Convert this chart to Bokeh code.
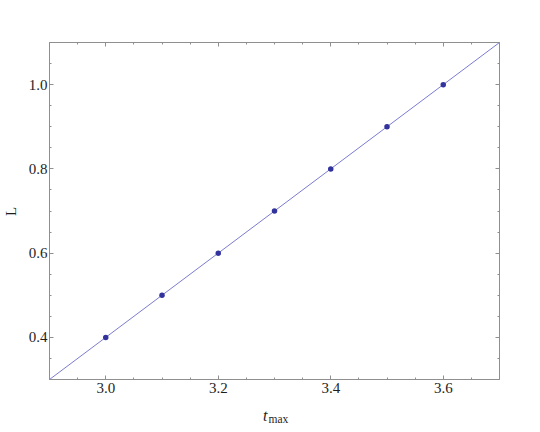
import math
import numpy as np
from bokeh.plotting import figure
from bokeh.models import Range1d, LinearAxis, FixedTicker, Label
from bokeh.embed import file_html
from bokeh.resources import INLINE

# ---- data ----
t_max = [3.0, 3.1, 3.2, 3.3, 3.4, 3.5, 3.6]
L_vals = [0.4, 0.5, 0.6, 0.7, 0.8, 0.9, 1.0]
fit_t = [2.9, 3.7]
fit_L = [0.3, 1.1]
x_ticks = [3.0, 3.2, 3.4, 3.6]
x_tick_labels = ["3.0", "3.2", "3.4", "3.6"]
y_ticks = [0.4, 0.6, 0.8, 1.0]
y_tick_labels = ["0.4", "0.6", "0.8", "1.0"]
x_label_main = "t"
x_label_sub = "max"
y_label = "L"

FONT = "Liberation Serif"
FRAME = "#8f8f8f"
TEXT = "#1e1e1e"

x_lo, x_hi = 2.9, 3.7
y_lo, y_hi = 0.3, 1.1
x_minor = [float(v) for v in np.round(np.arange(x_lo, x_hi + 1e-9, 0.05), 2)]
y_minor = [float(v) for v in np.round(np.arange(y_lo, y_hi + 1e-9, 0.05), 2)]

p = figure(frame_width=450, frame_height=337,
           x_range=Range1d(x_lo, x_hi), y_range=Range1d(y_lo, y_hi),
           output_backend="svg", toolbar_location=None,
           min_border_left=49, min_border_right=33,
           min_border_top=42, min_border_bottom=53,
           background_fill_color="white", border_fill_color="white")
p.grid.visible = False
p.outline_line_color = FRAME
p.outline_line_width = 1


def style_axis(ax, ticks, minor, labels, show):
    ax.ticker = FixedTicker(ticks=ticks, minor_ticks=minor)
    ax.axis_line_color = None
    ax.major_tick_line_color = FRAME
    ax.minor_tick_line_color = FRAME
    ax.major_tick_in = 4
    ax.major_tick_out = 0
    ax.minor_tick_in = 2
    ax.minor_tick_out = 0
    if show:
        ax.major_label_overrides = {t: s for t, s in zip(ticks, labels)}
        ax.major_label_text_font = FONT
        ax.major_label_text_font_size = "15px"
        ax.major_label_text_color = TEXT
    else:
        ax.major_label_overrides = {t: "" for t in ticks}
        ax.major_label_text_font_size = "1px"
        ax.major_label_standoff = 0


style_axis(p.xaxis[0], x_ticks, x_minor, x_tick_labels, True)
p.xaxis[0].major_label_standoff = 3
style_axis(p.yaxis[0], y_ticks, y_minor, y_tick_labels, True)
p.yaxis[0].major_label_standoff = 2

top = LinearAxis()
style_axis(top, x_ticks, x_minor, x_tick_labels, False)
p.add_layout(top, "above")
right = LinearAxis()
style_axis(right, y_ticks, y_minor, y_tick_labels, False)
p.add_layout(right, "right")

# fitted line and data points
p.line(fit_t, fit_L, line_color="#7b7bd3", line_width=1)
p.scatter(t_max, L_vals, size=5.5, fill_color="#33339e", line_color=None)

# axis titles (in side panels so they are not clipped to the frame)
p.add_layout(Label(x=218, y=-3, x_units="screen", y_units="screen",
                   text=x_label_main, text_align="right", text_baseline="alphabetic",
                   text_font=FONT, text_font_style="italic", text_font_size="16px",
                   text_color=TEXT), "below")
p.add_layout(Label(x=219, y=6, x_units="screen", y_units="screen",
                   text=x_label_sub, text_align="left", text_baseline="alphabetic",
                   text_font=FONT, text_font_size="11.5px", text_color=TEXT), "below")
p.add_layout(Label(x=1, y=168, x_units="screen", y_units="screen",
                   text=y_label, angle=math.pi / 2, text_align="center",
                   text_baseline="alphabetic", text_font=FONT,
                   text_font_size="15px", text_color=TEXT), "left")

open("out.html", "w").write(file_html(p, INLINE))
